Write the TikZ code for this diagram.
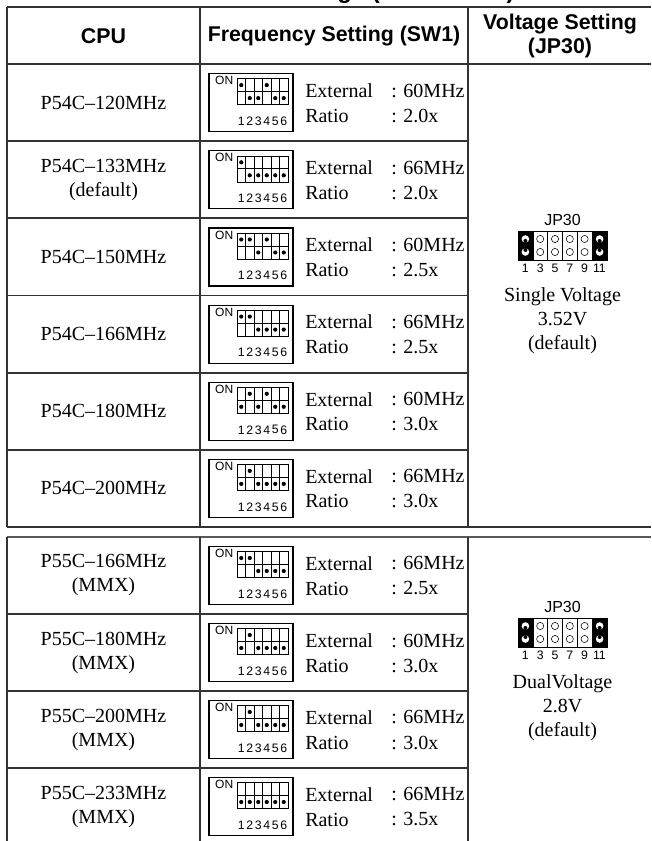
\documentclass[tikz,border=0pt]{standalone}
\usepackage{fontspec}
\setmainfont{Liberation Serif}
\setsansfont{Liberation Sans}
\usetikzlibrary{arrows,shapes,backgrounds}

% DIP switch SW1: #1 name, #2 row centre, #3 macro holding the states (1 = ON)
\newcommand{\dipsw}[3]{%
  \node [swbox] (#1) at (251,#2) {};
  \node [ontext,anchor=north east] at (233.5,#2-26.5) {ON};
  \draw [thin] (237,#2-24) rectangle (288,#2+2);
  \draw [semithick] (237,#2-11) -- (288,#2-11);
  \foreach \s [count=\i] in #3 {
    \ifnum\i<6 \draw [thin] (237+8.5*\i,#2-24) -- ++(0,26); \fi
    \fill (232.75+8.5*\i,{#2-17.5+13*(1-\s)}) circle (2.1);
    \node [numtext] at (232.75+8.5*\i,#2+18.5) {\i};
  }
}

% jumper JP30: #1 name, #2 top of the pin block
\newcommand{\jumper}[2]{%
  \node [jplabel] (#1) at (562.5,#2-11) {JP30};
  \fill (518,#2) rectangle ++(14.8,29);
  \fill (592.2,#2) rectangle ++(14.8,29);
  \draw [thin] (518,#2) rectangle (607,#2+29);
  \foreach \i/\lab in {1/1,2/3,3/5,4/7,5/9,6/11} {
    \ifnum\i>1 \draw [thin] (518+14.8*\i-14.8,#2) -- ++(0,29); \fi
    \node [numtext] at (518+14.8*\i-7.4,#2+37.5) {\lab};
  }
  \foreach \i in {2,3,4,5} {
    \draw [thin] (518+14.8*\i-7.4,#2+8) circle (3.6);
    \draw [thin] (518+14.8*\i-7.4,#2+21) circle (3.6);
  }
  \foreach \x in {525.4,599.6} {
    \fill [white] (\x,#2+8) circle (3.8);
    \fill (\x,#2+10) circle (2);
    \fill [white] (\x,#2+21) circle (3.8);
    \fill (\x,#2+19) circle (2);
  }
}

\begin{document}
\begin{tikzpicture}[x=0.75pt,y=-0.75pt]
  \tikzstyle{rule}=[line width=1.4pt,draw=black!80]
  \tikzstyle{head}=[font=\sffamily\bfseries\fontsize{16}{18}\selectfont,align=center,inner sep=0pt]
  \tikzstyle{cell}=[font=\fontsize{15}{18}\selectfont,align=center,inner sep=0pt]
  \tikzstyle{swbox}=[draw,line width=0.8pt,minimum width=63pt,minimum height=43.5pt]
  \tikzstyle{ontext}=[font=\sffamily\fontsize{9}{10}\selectfont,inner sep=0pt]
  \tikzstyle{numtext}=[font=\sffamily\fontsize{9.2}{10}\selectfont,inner sep=0pt]
  \tikzstyle{jplabel}=[font=\sffamily\fontsize{12}{13}\selectfont,inner sep=0pt]
  \useasboundingbox (0,0) rectangle (651,841);
  \clip (0,0) rectangle (651,841);

  % title, cut off at the top
  \node [font=\sffamily\bfseries\fontsize{18}{20}\selectfont,inner sep=0pt,anchor=base east]
    (title) at (515,-1.5) {CPU Settings (P54C/P55C)};

  % table frame
  \draw [rule] (7,7) -- (651,7);
  \draw [rule] (7,64) -- (651,64);
  \draw [rule] (7,527) -- (651,527);
  \draw [rule,draw=black!65,line width=1.8pt] (7,537) -- (651,537);
  \foreach \x in {7,200,468} {
    \draw [rule] (\x,7) -- (\x,527);
    \draw [rule] (\x,537) -- (\x,841);
  }
  \foreach \y in {141.2,218.3,295.5,372.7,449.8,614,691,768}
    \draw [rule] (7,\y) -- (468,\y);

  % header
  \node [head] (hcpu) at (103.5,36) {CPU};
  \node [head] (hfreq) at (334,36) {Frequency Setting (SW1)};
  \node [head] (hvolt) at (560,36) {Voltage Setting\\(JP30)};

  % rows
  \foreach \n/\cy/\cpu/\ext/\rat/\sw in {
      1/102.6/{P54C--120MHz}/60/2.0/{1,0,0,1,0,0},
      2/179.8/{P54C--133MHz\\(default)}/66/2.0/{1,0,0,0,0,0},
      3/257/{P54C--150MHz}/60/2.5/{1,1,0,1,0,0},
      4/334.1/{P54C--166MHz}/66/2.5/{1,1,0,0,0,0},
      5/411.3/{P54C--180MHz}/60/3.0/{0,1,0,1,0,0},
      6/488.4/{P54C--200MHz}/66/3.0/{0,1,0,0,0,0},
      7/575.5/{P55C--166MHz\\(MMX)}/66/2.5/{1,1,0,0,0,0},
      8/652.5/{P55C--180MHz\\(MMX)}/60/3.0/{0,1,0,0,0,0},
      9/729.5/{P55C--200MHz\\(MMX)}/66/3.0/{0,1,0,0,0,0},
      10/806.5/{P55C--233MHz\\(MMX)}/66/3.5/{0,0,0,0,0,0}} {
    \node [cell] (cpu\n) at (103.5,\cy) {\cpu};
    \dipsw{sw\n}{\cy}{\sw}
    \node [cell,anchor=west] (ext\n) at (305,\cy-12) {External};
    \node [cell,anchor=west] at (391,\cy-12) {: \ext MHz};
    \node [cell,anchor=west] (rat\n) at (305,\cy+13) {Ratio};
    \node [cell,anchor=west] at (391,\cy+13) {: \rat x};
  }

  % voltage settings
  \jumper{jp1}{231}
  \node [cell] (v1) at (562.5,321) {Single Voltage\\3.52V\\(default)};
  \jumper{jp2}{618}
  \node [cell] (v2) at (562.5,708) {DualVoltage\\2.8V\\(default)};
\end{tikzpicture}
\end{document}
